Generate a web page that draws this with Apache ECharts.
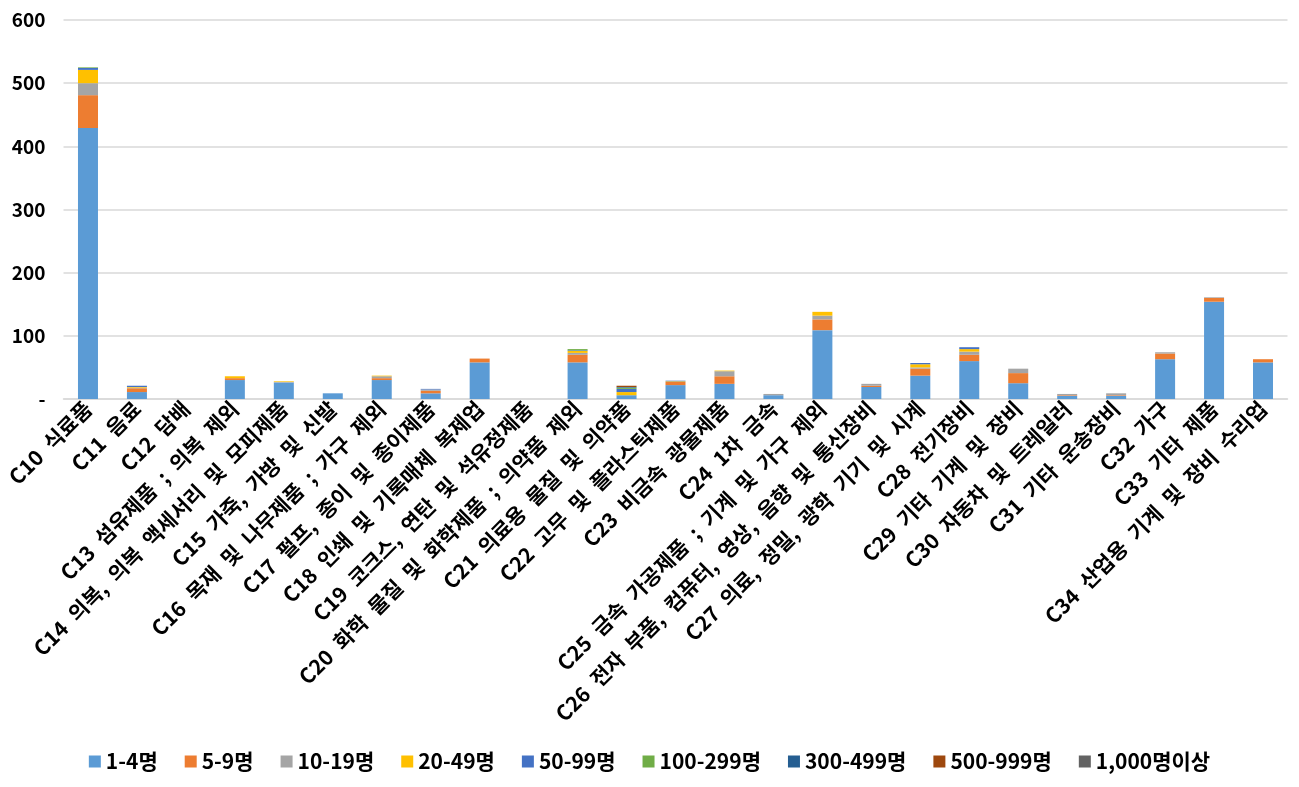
<!DOCTYPE html>
<html>
<head>
<meta charset="utf-8">
<script src="https://cdn.jsdelivr.net/npm/echarts@6/dist/echarts.min.js"></script>
<style>html,body{margin:0;padding:0;background:#fff;}#c{width:1299px;height:787px;}</style>
</head>
<body>
<div id="c"></div>
<script>
const categories = ["C10 식료품","C11 음료","C12 담배","C13 섬유제품 ; 의복 제외","C14 의복, 의복 액세서리 및 모피제품","C15 가죽, 가방 및 신발","C16 목재 및 나무제품 ; 가구 제외","C17 펄프, 종이 및 종이제품","C18 인쇄 및 기록매체 복제업","C19 코크스, 연탄 및 석유정제품","C20 화학 물질 및 화학제품 ; 의약품 제외","C21 의료용 물질 및 의약품","C22 고무 및 플라스틱제품","C23 비금속 광물제품","C24 1차 금속","C25 금속 가공제품 ; 기계 및 가구 제외","C26 전자 부품, 컴퓨터, 영상, 음향 및 통신장비","C27 의료, 정밀, 광학 기기 및 시계","C28 전기장비","C29 기타 기계 및 장비","C30 자동차 및 트레일러","C31 기타 운송장비","C32 가구","C33 기타 제품","C34 산업용 기계 및 장비 수리업"];
const seriesNames = ["1-4명","5-9명","10-19명","20-49명","50-99명","100-299명","300-499명","500-999명","1,000명이상"];
const s1_4     = [429,11,0,30,26,9,30,9,58,0,58,6,22,24,6,109,19,37,60,25,5,5,63,154,58];
const s5_9     = [52,6,0,3,0,0,3,4,6,0,12,0,5,12,0,17,2,11,10,16,1,1,9,6,5];
const s10_19   = [19,1,0,0,1,0,3,2,0,0,3,0,0,8,2,6,3,2,5,7,2,3,2,1,0];
const s20_49   = [21,1,0,3,1,0,1,0,0,0,3,5,1,1,0,6,0,5,4,0,0,0,0,0,0];
const s50_99   = [3,2,0,0,0,0,0,1,0,0,1,5,1,0,0,0,0,2,3,0,0,0,0,0,0];
const s100_299 = [1,0,0,0,0,0,0,0,0,0,2,2,0,0,0,0,0,0,0,0,0,0,0,0,0];
const s300_499 = [0,0,0,0,0,0,0,0,0,0,0,1,0,0,0,0,0,0,0,0,0,0,0,0,0];
const s500_999 = [0,0,0,0,0,0,0,0,0,0,0,2,0,0,0,0,0,0,0,0,0,0,0,0,0];
const s1000    = [0,0,0,0,0,0,0,0,0,0,0,0,0,0,0,0,0,0,0,0,0,0,0,0,0];
const yTicks = [0,100,200,300,400,500,600];

const allData = [s1_4,s5_9,s10_19,s20_49,s50_99,s100_299,s300_499,s500_999,s1000];
const colors = ["#5B9BD5","#ED7D31","#A5A5A5","#FFC000","#4472C4","#70AD47","#255E91","#9E480E","#636363"];
const FONT = "'Noto Sans CJK KR', 'Noto Sans', sans-serif";

const chart = echarts.init(document.getElementById('c'));
chart.setOption({
  animation: false,
  color: colors,
  textStyle: {fontFamily: FONT},
  grid: {left: 63.5, right: 11.5, top: 20, bottom: 388, containLabel: false},
  legend: {
    data: seriesNames,
    top: 746,
    left: 'center',
    itemWidth: 12, itemHeight: 12, itemGap: 27,
    icon: 'rect',
    textStyle: {fontFamily: FONT, fontWeight: 'bold', fontSize: 21, color: '#000'}
  },
  xAxis: {
    type: 'category',
    data: categories,
    axisLine: {show: true, lineStyle: {color: '#d9d9d9', width: 1.5}},
    axisTick: {show: false},
    axisLabel: {rotate: 45, interval: 0, fontFamily: FONT, fontWeight: 'bold', fontSize: 21, color: '#000', margin: 6,
      formatter: v => v.replace(/ /g, '\u2002')}
  },
  yAxis: {
    type: 'value',
    min: yTicks[0], max: yTicks[yTicks.length-1], interval: 100,
    axisLine: {show: false},
    axisTick: {show: false},
    splitLine: {lineStyle: {color: '#d9d9d9', width: 1.5}},
    axisLabel: {fontFamily: FONT, fontWeight: 'bold', fontSize: 19, color: '#000', margin: 18,
      formatter: v => v === 0 ? '-' : String(v)}
  },
  series: seriesNames.map((n, i) => ({
    name: n, type: 'bar', stack: 'total', barWidth: 20,
    data: allData[i]
  }))
});
</script>
</body>
</html>
